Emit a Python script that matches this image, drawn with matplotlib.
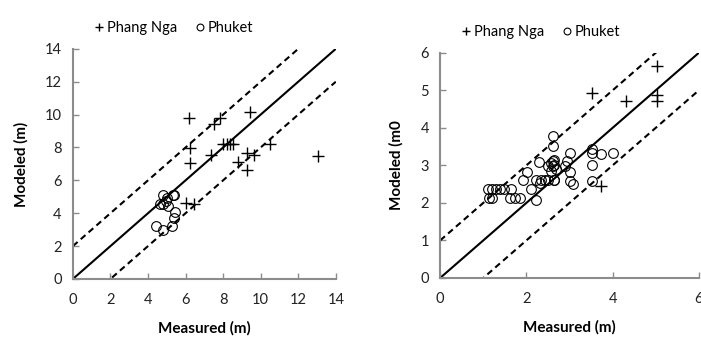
import numpy as np
import matplotlib.pyplot as plt

plt.rcParams['font.family'] = ['Lato', 'DejaVu Sans']

# Phang Nga / Phuket, 左图 (0-14 m)
pn_meas_a = [6.2, 7.54, 7.86, 9.43, 6.24, 6.26, 7.38, 8.0, 8.2, 8.35, 8.5, 8.78, 9.28, 9.28, 9.66, 10.5, 13.03, 6.03, 6.47]
pn_mod_a = [9.8, 9.45, 9.8, 10.14, 7.96, 7.07, 7.52, 8.2, 8.2, 8.2, 8.2, 7.11, 7.66, 6.6, 7.52, 8.23, 7.48, 4.63, 4.57]
pk_meas_a = [4.82, 5.32, 5.41, 4.97, 4.79, 4.65, 5.05, 5.45, 5.37, 4.43, 4.82, 5.27, 5.0]
pk_mod_a = [5.12, 5.08, 5.08, 4.77, 4.57, 4.57, 4.43, 4.06, 3.72, 3.21, 2.95, 3.21, 4.9]

# 右图 (0-6 m)
pn_meas_b = [5.02, 5.02, 5.02, 3.53, 4.31, 3.73]
pn_mod_b = [5.65, 4.88, 4.72, 4.92, 4.72, 2.45]
pk_meas_b = [1.10, 1.20, 1.30, 1.39, 1.48, 1.65, 1.13, 1.20, 1.62, 1.74, 1.84, 2.21,
             1.92, 2.23, 2.34, 2.42, 2.51, 2.65, 2.01, 2.10, 2.32, 2.30, 2.61, 2.51,
             2.61, 2.65, 2.69, 2.61, 2.62, 2.65, 3.02, 2.94, 3.00, 3.00, 3.09, 2.90,
             3.53, 3.52, 3.52, 3.52, 3.73, 4.00, 2.58, 2.63, 2.56]
pk_mod_b = [2.37, 2.37, 2.37, 2.37, 2.37, 2.37, 2.12, 2.12, 2.12, 2.12, 2.12, 2.08,
            2.61, 2.61, 2.61, 2.61, 2.61, 2.61, 2.83, 2.36, 2.52, 3.10, 3.12, 2.97,
            2.97, 3.00, 2.90, 3.52, 3.77, 2.61, 3.32, 3.12, 2.83, 2.59, 2.51, 2.97,
            3.43, 3.32, 3.01, 2.59, 3.30, 3.32, 3.05, 3.15, 2.85]

panels = [
    dict(pn=(pn_meas_a, pn_mod_a), pk=(pk_meas_a, pk_mod_a), lim=14, step=2, ystep=2, band=2,
         ylabel='Modeled (m)', rect=[0.104, 0.212, 0.375, 0.650]),
    dict(pn=(pn_meas_b, pn_mod_b), pk=(pk_meas_b, pk_mod_b), lim=6, step=2, ystep=1, band=1,
         ylabel='Modeled (m0', rect=[0.628, 0.215, 0.369, 0.636]),
]

fig = plt.figure(figsize=(7.01, 3.54), dpi=100)
grey = '#8c8c8c'

for p in panels:
    ax = fig.add_axes(p['rect'])
    lim = p['lim']
    xx = np.array([0, lim])
    ax.plot(xx, xx, color='black', lw=1.5, zorder=2)
    ax.plot(xx, xx + p['band'], color='black', lw=1.5, ls=(0, (3, 2)), zorder=2)
    ax.plot(xx, xx - p['band'], color='black', lw=1.5, ls=(0, (3, 2)), zorder=2)
    ax.plot(*p['pn'], ls='none', marker='+', ms=8, mew=1.0, color='black', label='Phang Nga', zorder=3)
    ax.plot(*p['pk'], ls='none', marker='o', ms=7, mew=0.8, mfc='none', color='black', label='Phuket', zorder=3)

    ax.set_xlim(0, lim)
    ax.set_ylim(0, lim)
    ax.set_xticks(np.arange(0, lim + 1, p['step']))
    ax.set_yticks(np.arange(0, lim + 1, p['ystep']))
    for s in ['top', 'right']:
        ax.spines[s].set_visible(False)
    for s in ['left', 'bottom']:
        ax.spines[s].set_color(grey)
        ax.spines[s].set_linewidth(1.5)
    ax.tick_params(direction='in', length=4, width=1, color=grey, labelsize=10.5,
                   labelcolor='#222222', pad=8)
    ax.tick_params(axis='x', pad=10)
    ax.set_xlabel('Measured (m)', fontsize=11, fontweight='bold', labelpad=10)
    ax.set_ylabel(p['ylabel'], fontsize=11, fontweight='bold', labelpad=12)
    ax.legend(loc='lower left', bbox_to_anchor=(0.085, 1.06), ncol=2, frameon=False,
              fontsize=10.5, markerscale=0.7, handlelength=0.5, handletextpad=0.3,
              columnspacing=1.3, borderaxespad=0, borderpad=0)

fig.savefig('out.png', dpi=100)
